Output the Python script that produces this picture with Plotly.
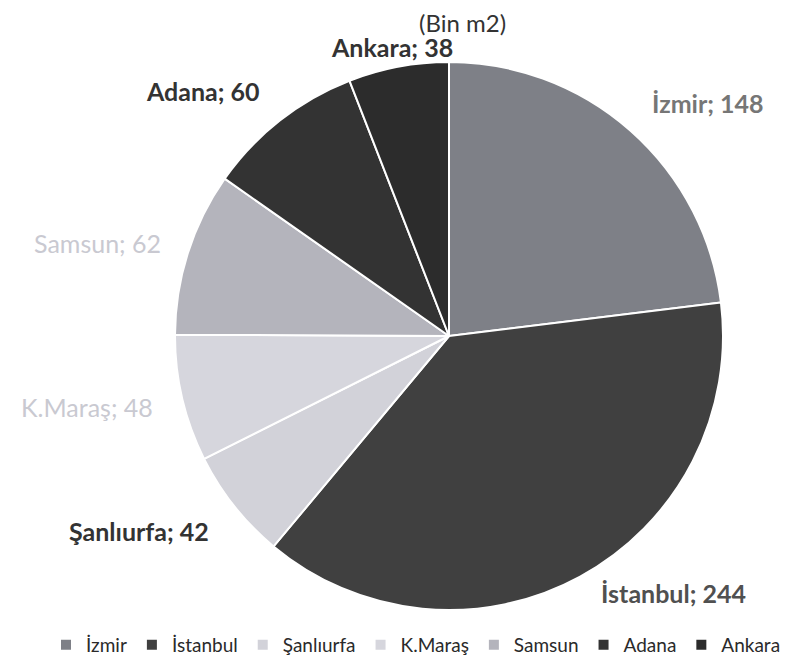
import plotly.graph_objects as go

cities = ["İzmir", "İstanbul", "Şanlıurfa", "K.Maraş", "Samsun", "Adana", "Ankara"]
values = [148, 244, 42, 48, 62, 60, 38]
slice_colors = ["#7e8087", "#404040", "#d2d2d9", "#d6d6dd", "#b4b4bc", "#333333", "#2c2c2c"]
label_colors = ["#767676", "#505050", "#333333", "#c9c9d1", "#c9c9d1", "#333333", "#333333"]
label_bold = [True, True, True, False, False, True, True]
# label anchor positions in pixels (x, y from top) of the 801x657 canvas
label_pos = [(700, 95), (665, 585), (131, 523), (79, 399), (89, 235), (195, 83), (384, 39)]

W, H = 801, 657
CX, CY, R = 441, 328, 274

fig = go.Figure()
fig.add_trace(go.Pie(
    labels=cities,
    values=values,
    sort=False,
    direction="clockwise",
    rotation=0,
    textinfo="none",
    hoverinfo="label+value",
    marker=dict(colors=slice_colors, line=dict(color="white", width=2)),
    domain=dict(x=[(CX - R) / W, (CX + R) / W], y=[1 - (CY + R) / H, 1 - (CY - R) / H]),
))

annotations = []
for name, v, c, b, (px, py) in zip(cities, values, label_colors, label_bold, label_pos):
    txt = f"{name}; {v}"
    if b:
        txt = f"<b>{txt}</b>"
    annotations.append(dict(
        x=px / W, y=1 - py / H, xref="paper", yref="paper",
        text=txt, showarrow=False, xanchor="center", yanchor="middle",
        font=dict(family="Lato, sans-serif", size=25, color=c),
    ))
annotations.append(dict(
    x=454 / W, y=1 - 15 / H, xref="paper", yref="paper",
    text="(Bin m2)", showarrow=False, xanchor="center", yanchor="middle",
    font=dict(family="Lato, sans-serif", size=24, color="#333333"),
))

fig.update_layout(
    width=W, height=H,
    margin=dict(l=0, r=0, t=0, b=0),
    paper_bgcolor="white",
    plot_bgcolor="white",
    annotations=annotations,
    showlegend=True,
    legend=dict(
        orientation="h",
        x=38 / W, xanchor="left",
        y=1 - 637 / H, yanchor="middle",
        font=dict(family="Lato, sans-serif", size=19, color="#2a2a2a"),
        itemwidth=30,
        tracegroupgap=0,
    ),
)

fig.write_html("out.html")
